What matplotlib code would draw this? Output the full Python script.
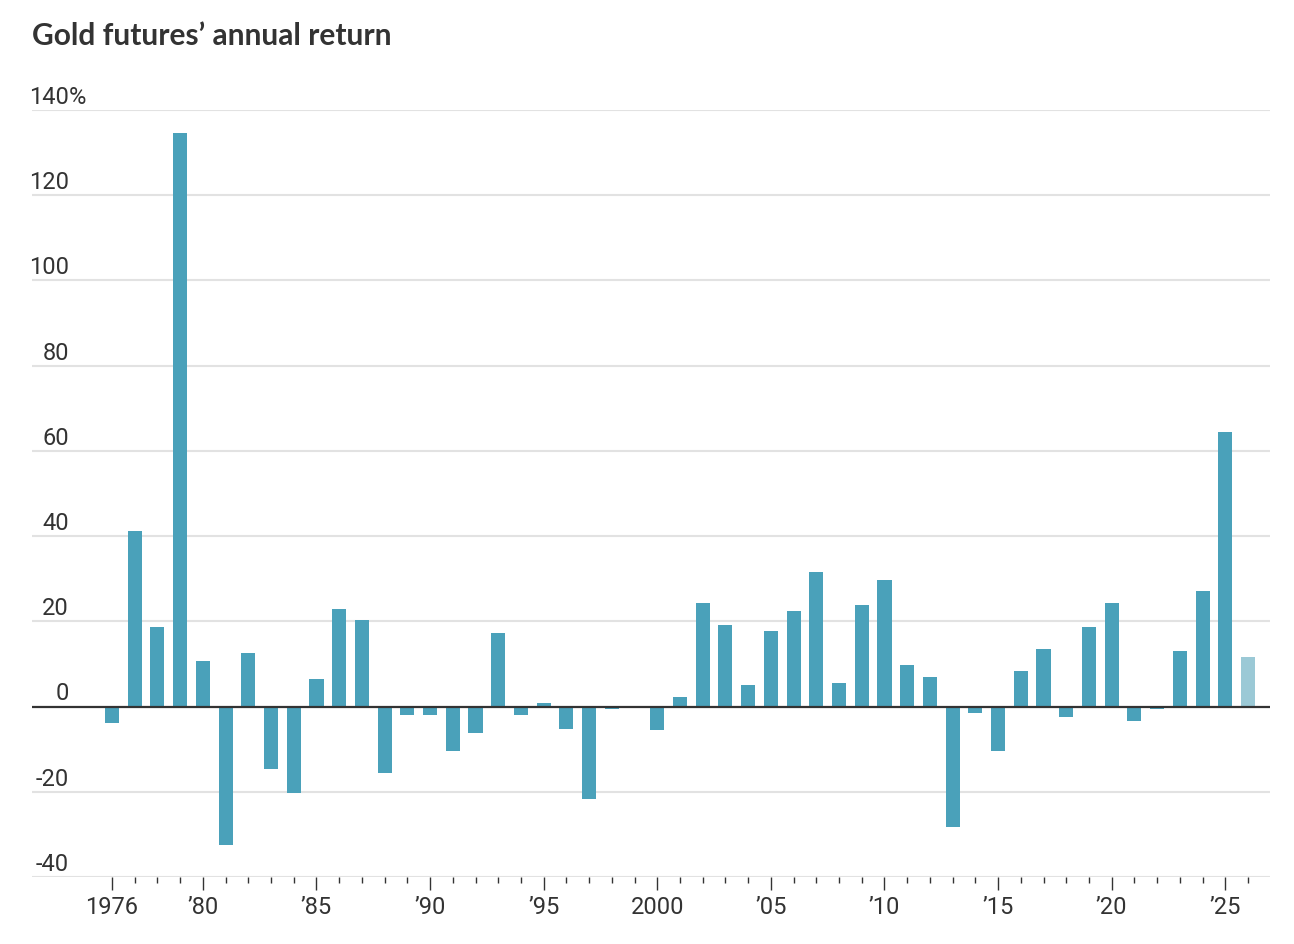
import matplotlib
matplotlib.use("Agg")
import matplotlib.pyplot as plt
from matplotlib import font_manager
from matplotlib.transforms import offset_copy

years = list(range(1976, 2027))
returns = [-3.8, 41.3, 18.7, 134.5, 10.7, -32.5, 12.6, -14.6, -20.2, 6.5,
           23.0, 20.2, -15.5, -1.9, -1.9, -10.4, -6.1, 17.3, -1.9, 0.9,
           -5.2, -21.6, -0.5, 0.0, -5.6, 2.3, 24.4, 19.2, 5.1, 17.8,
           22.5, 31.5, 5.6, 23.9, 29.6, 9.8, 7.0, -28.2, -1.4, -10.4,
           8.4, 13.6, -2.4, 18.7, 24.4, -3.3, -0.5, 13.1, 27.2, 64.4,
           11.7]
partial_year = 2026
y_ticks = [-40, -20, 0, 20, 40, 60, 80, 100, 120, 140]
x_label_years = [1976, 1980, 1985, 1990, 1995, 2000, 2005, 2010, 2015, 2020, 2025]
x_labels = ["1976", "\u201980", "\u201985", "\u201990", "\u201995", "2000",
            "\u201905", "\u201910", "\u201915", "\u201920", "\u201925"]
title = "Gold futures\u2019 annual return"

available = {f.name for f in font_manager.fontManager.ttflist}
narrow = "Liberation Sans Narrow" if "Liberation Sans Narrow" in available else "Roboto"
title_font = "Lato"

W, H = 1294, 944
fig = plt.figure(figsize=(W / 100, H / 100), dpi=100)
left_px, right_px = 32, 1270
top_px, bot_px = 110, 877
ax = fig.add_axes([left_px / W, 1 - bot_px / H, (right_px - left_px) / W, (bot_px - top_px) / H])

bar_color = "#4aa1ba"
light_color = "#9bc9d6"
colors = [light_color if y == partial_year else bar_color for y in years]
ax.bar(years, returns, width=0.62, color=colors, zorder=3)

px_per_year = (1248 - 112) / 50
ax.set_xlim(1976 - (112 - left_px) / px_per_year, 2026 + (right_px - 1248) / px_per_year)
ax.set_ylim(-40, 140)

for v in y_ticks:
    if v == 0:
        ax.axhline(0, color="#333333", lw=1.6, zorder=4)
    else:
        ax.axhline(v, color="#e2e2e2", lw=1.5, zorder=1)

for s in ax.spines.values():
    s.set_visible(False)
ax.set_yticks([])

# x ticks
ax.set_xticks(years, minor=True)
ax.set_xticks(x_label_years)
ax.set_xticklabels(x_labels, fontfamily=narrow, fontsize=17, color="#333333")
ax.tick_params(axis="x", which="minor", length=4, width=1, color="#333333")
ax.tick_params(axis="x", which="major", length=9, width=1, color="#333333", pad=5)

# y labels above gridlines, right-aligned
tr = offset_copy(ax.transData, fig=fig, x=0, y=0.8, units="points")
label_x = 1976 - (112 - 69) / px_per_year
for v in y_ticks:
    ax.text(label_x, v, f"{v}", transform=tr, ha="right", va="bottom",
            fontfamily=narrow, fontsize=17, color="#333333")
    if v == 140:
        ax.text(label_x, v, "%", transform=tr, ha="left", va="bottom",
                fontfamily=narrow, fontsize=17, color="#333333")

fig.text(left_px / W, 1 - 36 / H, title, ha="left", va="center",
         fontfamily=title_font, fontweight="bold", fontsize=21.5, color="#333333")

fig.savefig("out.png", dpi=100, facecolor="white")
